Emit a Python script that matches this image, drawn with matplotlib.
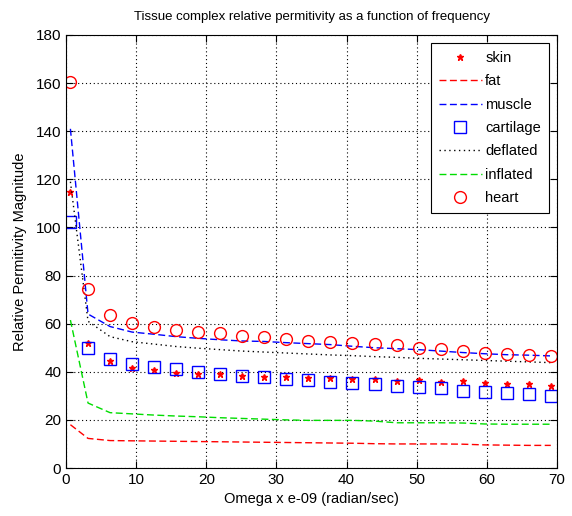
import numpy as np
import matplotlib
matplotlib.use('Agg')
import matplotlib.pyplot as plt

plt.rcParams['font.family'] = ['Liberation Sans', 'DejaVu Sans']

# frequencies in GHz, omega = 2*pi*f
freq = [0.1] + [0.5 * k for k in range(1, 23)]
omega = [2 * np.pi * f for f in freq]

skin = [114.9, 52.1, 44.5, 41.7, 40.7, 39.6, 38.9, 38.9, 38.4, 37.8, 38.0, 37.3,
        37.5, 36.9, 36.9, 36.3, 36.6, 35.9, 36.0, 35.2, 34.9, 34.8, 34.1]
fat = [18.0, 12.3, 11.4, 11.3, 11.2, 11.1, 11.0, 10.9, 10.8, 10.7, 10.6, 10.5,
       10.4, 10.3, 10.1, 10.0, 10.0, 10.0, 9.9, 9.6, 9.5, 9.4, 9.4]
muscle = [141.0, 64.0, 58.8, 56.5, 55.6, 54.6, 53.9, 53.3, 52.8, 52.6, 52.1, 51.7,
          51.3, 50.6, 50.0, 49.6, 49.2, 48.6, 48.0, 47.5, 47.1, 46.9, 46.6]
cartilage = [102.2, 50.0, 45.2, 43.1, 41.9, 41.0, 39.8, 39.2, 38.3, 37.7, 36.9, 36.6,
             35.9, 35.5, 34.8, 34.2, 33.8, 33.1, 32.1, 31.5, 31.0, 30.6, 30.1]
deflated = [119.0, 61.0, 54.6, 52.5, 51.5, 50.5, 49.8, 49.2, 48.6, 48.2, 47.8, 47.4,
            47.0, 46.7, 46.3, 46.0, 45.6, 45.3, 45.0, 44.7, 44.4, 44.1, 43.8]
inflated = [61.5, 27.0, 23.0, 22.5, 22.0, 21.6, 21.3, 20.9, 20.6, 20.3, 20.0, 19.8,
            19.8, 19.8, 19.5, 18.8, 18.8, 18.8, 18.7, 18.3, 18.2, 18.2, 18.2]
heart = [160.6, 74.3, 63.6, 60.4, 58.8, 57.4, 56.4, 56.0, 54.9, 54.6, 53.6, 52.8,
         52.3, 51.9, 51.6, 51.0, 50.0, 49.4, 48.8, 47.7, 47.4, 47.0, 46.6]

fig = plt.figure(figsize=(5.72, 5.16), dpi=100)
ax = fig.add_axes([66 / 572, 1 - 468 / 516, (557 - 66) / 572, (468 - 35) / 516])

dash = (5, 2.5)
ax.plot(omega, skin, linestyle='none', marker='*', color='red', markersize=4.5, label='skin')
ax.plot(omega, fat, color='red', linestyle=(0, dash), linewidth=1, label='fat')
ax.plot(omega, muscle, color='blue', linestyle=(0, dash), linewidth=1, label='muscle')
ax.plot(omega, cartilage, linestyle='none', marker='s', markersize=8, markerfacecolor='none',
        markeredgecolor='blue', markeredgewidth=1, label='cartilage')
ax.plot(omega, deflated, color='black', linestyle=(0, (1, 2.5)), linewidth=1, label='deflated')
ax.plot(omega, inflated, color='#00dd00', linestyle=(0, dash), linewidth=1, label='inflated')
ax.plot(omega, heart, linestyle='none', marker='o', markersize=8.5, markerfacecolor='none',
        markeredgecolor='red', markeredgewidth=1, label='heart')

ax.set_xlim(0, 70)
ax.set_ylim(0, 180)
ax.set_xticks(range(0, 71, 10))
ax.set_yticks(range(0, 181, 20))
ax.grid(True, color='black', linestyle=(0, (1, 2.5)), linewidth=0.8)
ax.tick_params(direction='in', top=True, right=True, labelsize=11, length=5)

ax.set_title('Tissue complex relative permitivity as a function of frequency', fontsize=9.5, pad=11)
ax.set_xlabel('Omega x e-09 (radian/sec)', fontsize=10.5)
ax.set_ylabel('Relative Permitivity Magnitude', fontsize=10.5, labelpad=6)

leg = ax.legend(loc='upper right', fontsize=10.5, fancybox=False, framealpha=1,
                edgecolor='black', handlelength=3.0, labelspacing=0.64,
                borderaxespad=0.55, borderpad=0.55, handletextpad=0.2)
leg.get_frame().set_linewidth(0.8)

fig.savefig('out.png', dpi=100)
